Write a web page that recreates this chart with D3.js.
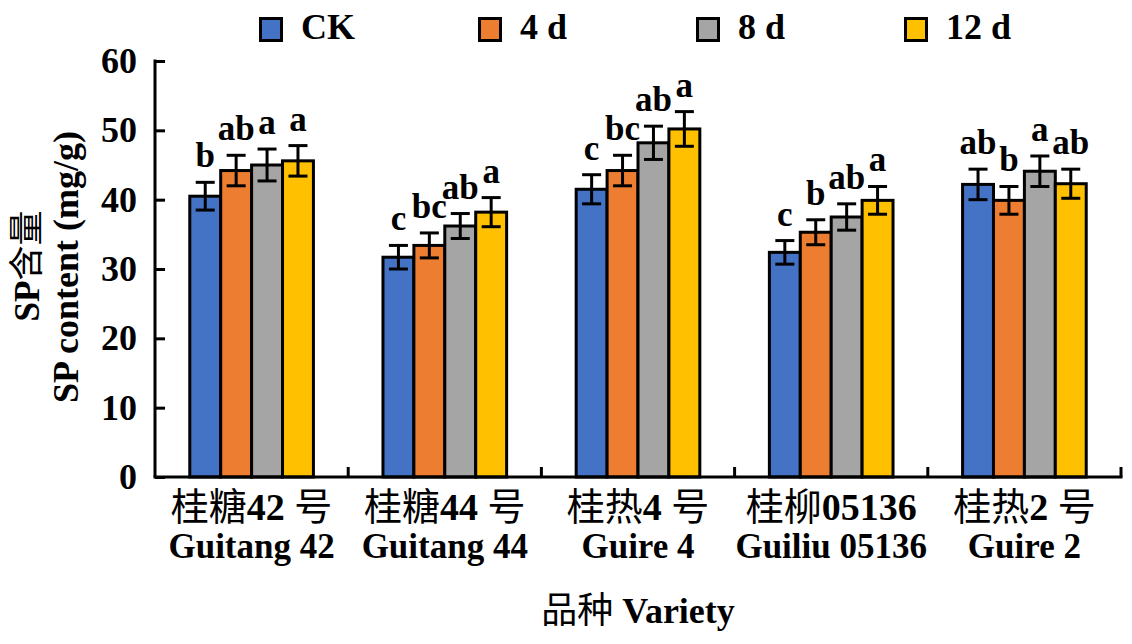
<!DOCTYPE html>
<html>
<head>
<meta charset="utf-8">
<script src="https://cdn.jsdelivr.net/npm/d3@7"></script>
<style>
  body { margin: 0; background: #fff; }
  text { font-family: "Liberation Serif", "Times New Roman", "Noto Sans CJK SC", serif; fill: #000; }
</style>
</head>
<body>
<svg id="chart"></svg>
<script>
/*=================
=== Data
=================*/
var varietiesCn = ['桂糖42号', '桂糖44号', '桂热4号', '桂柳05136', '桂热2号'];
var varietiesEn = ['Guitang 42', 'Guitang 44', 'Guire 4', 'Guiliu 05136', 'Guire 2'];
var seriesNames = ['CK', '4 d', '8 d', '12 d'];

var valCK  = [40.5, 31.7, 41.5, 32.4, 42.2];
var val4d  = [44.2, 33.4, 44.2, 35.3, 39.9];
var val8d  = [45.0, 36.2, 48.2, 37.5, 44.1];
var val12d = [45.6, 38.2, 50.2, 39.9, 42.3];

var errCK  = [2.0, 1.7, 2.1, 1.7, 2.2];
var err4d  = [2.2, 1.8, 2.2, 1.8, 2.0];
var err8d  = [2.3, 1.8, 2.4, 1.9, 2.2];
var err12d = [2.2, 2.1, 2.5, 2.0, 2.1];

var sigCK  = ['b', 'c', 'c', 'c', 'ab'];
var sig4d  = ['ab', 'bc', 'bc', 'b', 'b'];
var sig8d  = ['a', 'ab', 'ab', 'ab', 'a'];
var sig12d = ['a', 'a', 'a', 'a', 'ab'];

var yTicks = [0, 10, 20, 30, 40, 50, 60];
var colors = ['#4472C4', '#ED7D31', '#A5A5A5', '#FFC000'];

/*=================
=== Setup
=================*/
var W = 1132, H = 644;
var svg = d3.select('#chart').attr('width', W).attr('height', H);

// plot area edges (px)
var pL = 155, pR = 1121, pT = 61, pB = 477;

var values = [valCK, val4d, val8d, val12d];
var errors = [errCK, err4d, err8d, err12d];
var sigs = [sigCK, sig4d, sig8d, sig12d];

// flatten for binding
var bars = [];
seriesNames.forEach((s, si) => {
	varietiesEn.forEach((v, vi) => {
		bars.push({ s: s, si: si, v: v, val: values[si][vi], err: errors[si][vi], sig: sigs[si][vi] });
	});
});

var x0 = d3.scaleBand().domain(varietiesEn).range([pL, pR]).paddingInner(0).paddingOuter(0);
var groupW = x0.bandwidth() * 0.64;
var x1 = d3.scaleBand().domain(seriesNames).range([-groupW / 2, groupW / 2]).padding(0);
var y = d3.scaleLinear().domain([0, 60]).range([pB, pT]);

var sw = 3;

// bars
svg.append('g').selectAll('rect')
	.data(bars)
	.enter()
	.append('rect')
	.attr('x', d => x0(d.v) + x0.bandwidth() / 2 + x1(d.s))
	.attr('y', d => y(d.val))
	.attr('width', x1.bandwidth())
	.attr('height', d => y(0) - y(d.val))
	.attr('fill', d => colors[d.si])
	.attr('stroke', '#000')
	.attr('stroke-width', sw);

// error bars
var cx = d => x0(d.v) + x0.bandwidth() / 2 + x1(d.s) + x1.bandwidth() / 2;
var errG = svg.append('g').attr('stroke', '#000').attr('stroke-width', sw);
errG.selectAll('line.v').data(bars).enter().append('line')
	.attr('x1', cx).attr('x2', cx)
	.attr('y1', d => y(d.val + d.err)).attr('y2', d => y(d.val - d.err));
errG.selectAll('line.t').data(bars).enter().append('line')
	.attr('x1', d => cx(d) - 9.5).attr('x2', d => cx(d) + 9.5)
	.attr('y1', d => y(d.val + d.err)).attr('y2', d => y(d.val + d.err));
errG.selectAll('line.b').data(bars).enter().append('line')
	.attr('x1', d => cx(d) - 9.5).attr('x2', d => cx(d) + 9.5)
	.attr('y1', d => y(d.val - d.err)).attr('y2', d => y(d.val - d.err));

// significance letters
svg.append('g').selectAll('text')
	.data(bars)
	.enter()
	.append('text')
	.attr('x', cx)
	.attr('y', d => y(d.val + d.err) - 15)
	.attr('text-anchor', 'middle')
	.attr('font-size', 35)
	.attr('font-weight', 'bold')
	.text(d => d.sig);

/*=================
=== Axes
=================*/
var yAxis = d3.axisLeft(y).tickValues(yTicks).tickSizeInner(-10).tickSizeOuter(0).tickPadding(18);
var yG = svg.append('g').attr('transform', `translate(${pL},0)`).call(yAxis);
yG.select('.domain').attr('stroke', '#000').attr('stroke-width', sw).attr('d', `M0,${pT - 1.5}V${pB}`);
yG.selectAll('.tick line').attr('stroke', '#000').attr('stroke-width', sw);
yG.selectAll('.tick text')
	.attr('font-size', 36).attr('font-weight', 'bold')
	.attr('font-family', '"Liberation Serif", serif');

// x axis line + separators
svg.append('line')
	.attr('x1', pL - 1.5).attr('x2', pR + 1.5)
	.attr('y1', pB).attr('y2', pB)
	.attr('stroke', '#000').attr('stroke-width', sw);
var seps = varietiesEn.map(v => x0(v) + x0.bandwidth());
svg.append('g').selectAll('line')
	.data(seps)
	.enter()
	.append('line')
	.attr('x1', d => d).attr('x2', d => d)
	.attr('y1', pB).attr('y2', pB - 10)
	.attr('stroke', '#000').attr('stroke-width', sw);

// mixed labels: CJK parts at normal weight
function addMixed(sel, str) {
	var parts = str.match(/[\u4e00-\u9fff]+|[^\u4e00-\u9fff]+/g);
	parts.forEach(p => {
		var cjk = /[\u4e00-\u9fff]/.test(p);
		sel.append('tspan')
			.attr('font-weight', cjk ? 'normal' : 'bold')
			.attr('font-family', cjk ? '"Noto Sans CJK SC", sans-serif' : '"Liberation Serif", serif')
			.text(p);
	});
}

var xl = svg.append('g').selectAll('g')
	.data(varietiesEn)
	.enter()
	.append('g');
xl.append('text')
	.attr('x', d => x0(d) + x0.bandwidth() / 2)
	.attr('y', 520)
	.attr('text-anchor', 'middle')
	.attr('font-size', 38)
	.each(function (d, i) { addMixed(d3.select(this), varietiesCn[i].replace(/(\d)号/, '$1 号')); });
xl.append('text')
	.attr('x', d => x0(d) + x0.bandwidth() / 2)
	.attr('y', 558)
	.attr('text-anchor', 'middle')
	.attr('font-size', 35)
	.attr('font-weight', 'bold')
	.text(d => d);

// axis titles
var xt = svg.append('text')
	.attr('x', (pL + pR) / 2)
	.attr('y', 623)
	.attr('text-anchor', 'middle')
	.attr('font-size', 36);
addMixed(xt, '品种 Variety');

var yt1 = svg.append('text')
	.attr('transform', 'translate(39,266) rotate(-90)')
	.attr('text-anchor', 'middle')
	.attr('font-size', 35);
addMixed(yt1, 'SP含量');
svg.append('text')
	.attr('transform', 'translate(78,267) rotate(-90)')
	.attr('text-anchor', 'middle')
	.attr('font-size', 36)
	.attr('font-weight', 'bold')
	.text('SP content (mg/g)');

/*=================
=== Legend
=================*/
var legX = [259, 478, 696, 904];
var leg = svg.append('g').selectAll('g')
	.data(seriesNames)
	.enter()
	.append('g')
	.attr('transform', (d, i) => `translate(${legX[i]},0)`);
leg.append('rect')
	.attr('x', 1.5).attr('y', 18.5)
	.attr('width', 21).attr('height', 22)
	.attr('fill', (d, i) => colors[i])
	.attr('stroke', '#000').attr('stroke-width', sw);
leg.append('text')
	.attr('x', 42).attr('y', 39)
	.attr('font-size', 36)
	.attr('font-weight', 'bold')
	.text(d => d);
</script>
</body>
</html>
